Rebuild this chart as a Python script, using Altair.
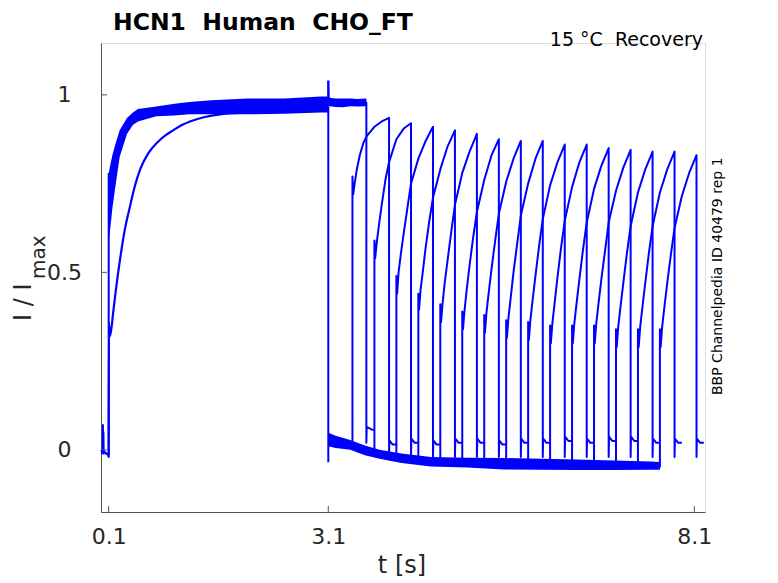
import altair as alt
import pandas as pd

# ---------------- values ----------------
# holding baseline before the activating step (t < 0.1 s)
PRE_T = [0.0, 0.012, 0.018, 0.021, 0.025, 0.028, 0.032, 0.045, 0.07, 0.09, 0.1, 0.1]
PRE_V = [0.0, -0.01, 0.005, 0.07, 0.01, 0.05, -0.01, -0.005, -0.012, -0.01, -0.02, 0.78]

# noise envelope of the 15 fast activating traces (0.1 .. 3.1 s)
FAST_T = [0.101, 0.12, 0.15, 0.19, 0.25, 0.35, 0.43, 0.5, 0.75, 1.0, 1.2, 1.5, 2.0, 2.5, 3.0, 3.1]
FAST_HI = [0.78, 0.80, 0.83, 0.86, 0.90, 0.935, 0.95, 0.96, 0.967, 0.975, 0.98, 0.985, 0.99, 0.99, 0.995, 0.995]
FAST_LO = [0.59, 0.62, 0.68, 0.74, 0.825, 0.89, 0.915, 0.925, 0.94, 0.942, 0.945, 0.945, 0.945, 0.947, 0.95, 0.95]

# the one slowly activating trace
SLOW_T = [0.1, 0.102, 0.118, 0.163, 0.186, 0.254, 0.32, 0.39, 0.46, 0.53, 0.64, 0.76, 0.87, 0.98, 1.1, 1.21, 1.4, 1.62, 2.03, 2.5, 3.0, 3.1]
SLOW_V = [-0.02, 0.36, 0.32, 0.39, 0.43, 0.535, 0.62, 0.685, 0.745, 0.79, 0.835, 0.865, 0.885, 0.90, 0.915, 0.925, 0.937, 0.945, 0.95, 0.955, 0.96, 0.96]

# common step back at 3.1 s
DROP_T = [3.1, 3.1]
DROP_V = [1.04, -0.035]

# deactivating tail envelope (3.1 s .. last test onset)
TAIL_T = [3.1, 3.2, 3.4, 3.6, 3.8, 4.1, 4.5, 5.0, 5.5, 6.0, 6.5, 7.0, 7.5, 7.63]
TAIL_HI = [0.048, 0.04, 0.028, 0.012, 0.0, -0.01, -0.02, -0.022, -0.023, -0.025, -0.027, -0.03, -0.033, -0.034]
TAIL_LO = [0.01, 0.005, 0.0, -0.015, -0.025, -0.037, -0.047, -0.05, -0.055, -0.056, -0.057, -0.057, -0.056, -0.056]

# trace with the shortest recovery interval (stays open)
T0_T = [3.1, 3.105, 3.12, 3.2, 3.3, 3.4, 3.5, 3.62]
T0_V = [1.04, 0.99, 0.98, 0.978, 0.976, 0.98, 0.977, 0.978]
T0_HI = [0.995, 0.995, 0.992, 0.99, 0.99, 0.99, 0.988, 0.99]
T0_LO = [0.97, 0.97, 0.968, 0.966, 0.965, 0.968, 0.967, 0.968]
T0_POST_T = [3.62, 3.625, 3.67, 3.72]
T0_POST_V = [0.02, 0.065, 0.06, 0.055]

# test pulses: onset time, tail level at onset, current at offsets after onset
ONSETS = [3.43, 3.73, 4.03, 4.33, 4.63, 4.93, 5.23, 5.53, 5.83, 6.13, 6.43, 6.73, 7.03, 7.33, 7.63]
BASES = [0.005, -0.01, -0.03, -0.035, -0.04, -0.045, -0.045, -0.05, -0.05, -0.05, -0.05, -0.05, -0.05, -0.05, -0.05]
OFFS = [0.0, 0.01, 0.03, 0.06, 0.1, 0.15, 0.2, 0.3, 0.4, 0.5]
CURVES = [
    [0.77, 0.72, 0.75, 0.79, 0.83, 0.865, 0.885, 0.91, 0.925, 0.935],
    [0.59, 0.54, 0.58, 0.63, 0.69, 0.76, 0.81, 0.875, 0.905, 0.92],
    [0.49, 0.44, 0.50, 0.55, 0.61, 0.68, 0.75, 0.82, 0.87, 0.91],
    [0.44, 0.395, 0.45, 0.50, 0.57, 0.645, 0.71, 0.79, 0.855, 0.90],
    [0.41, 0.36, 0.41, 0.47, 0.535, 0.615, 0.69, 0.78, 0.84, 0.89],
    [0.39, 0.34, 0.39, 0.45, 0.52, 0.60, 0.67, 0.76, 0.83, 0.875],
    [0.38, 0.33, 0.385, 0.44, 0.51, 0.59, 0.665, 0.755, 0.82, 0.87],
    [0.365, 0.315, 0.37, 0.425, 0.50, 0.58, 0.66, 0.75, 0.82, 0.87],
    [0.36, 0.31, 0.365, 0.42, 0.49, 0.575, 0.65, 0.745, 0.81, 0.86],
    [0.35, 0.30, 0.355, 0.41, 0.485, 0.57, 0.645, 0.74, 0.81, 0.86],
    [0.35, 0.30, 0.355, 0.41, 0.48, 0.565, 0.64, 0.735, 0.80, 0.85],
    [0.35, 0.30, 0.355, 0.41, 0.48, 0.56, 0.64, 0.73, 0.795, 0.845],
    [0.34, 0.29, 0.345, 0.40, 0.47, 0.555, 0.63, 0.725, 0.79, 0.84],
    [0.34, 0.29, 0.345, 0.40, 0.47, 0.555, 0.63, 0.725, 0.79, 0.84],
    [0.34, 0.29, 0.345, 0.40, 0.47, 0.55, 0.625, 0.715, 0.78, 0.83],
]
POST_OFFS = [0.5, 0.505, 0.55, 0.6]
POST_DROP = -0.02
BLIPS = [0.015, 0.02, 0.015, 0.02, 0.02, 0.015, 0.02, 0.02, 0.025, 0.02, 0.025, 0.025, 0.02, 0.02, 0.02]

X_TICKS = [0.1, 3.1, 8.1]
Y_TICKS = [0, 0.5, 1]

BLUE = "#0000ff"
FONT = "DejaVu Sans"

# ---------------- tables ----------------
rows = []


def add(trace, ts, vs):
    for i, (t, v) in enumerate(zip(ts, vs)):
        rows.append({"trace": trace, "i": i, "t": t, "v": v})


add("pre", PRE_T, PRE_V)
add("drop", DROP_T, DROP_V)
add("t0", T0_T + T0_POST_T, T0_V + T0_POST_V)
for k, (on, base, cur, blip) in enumerate(zip(ONSETS, BASES, CURVES, BLIPS)):
    ts = [on] + [on + o for o in OFFS] + [on + o for o in POST_OFFS]
    vs = [base] + cur + [POST_DROP, blip + 0.012, blip, blip]
    add(f"k{k + 1}", ts, vs)
lines = pd.DataFrame(rows)

slow = pd.DataFrame({"t": SLOW_T, "v": SLOW_V})
fast = pd.DataFrame({"t": FAST_T, "hi": FAST_HI, "lo": FAST_LO})
tail = pd.DataFrame({"t": TAIL_T, "hi": TAIL_HI, "lo": TAIL_LO})
t0band = pd.DataFrame({"t": T0_T, "hi": T0_HI, "lo": T0_LO})
xt = pd.DataFrame({"t": X_TICKS})
yt = pd.DataFrame({"v": Y_TICKS})

# ---------------- scales / axes ----------------
XS = alt.Scale(domain=[-0.005, 8.246], nice=False, zero=False)
YS = alt.Scale(domain=[-0.175, 1.146], nice=False, zero=False)
XA = alt.Axis(values=X_TICKS, format=".1f", title=None, grid=False, ticks=False, tickSize=0,
              domainColor="#555555", labelFont=FONT, labelFontSize=22, labelColor="#262626",
              labelBaseline="alphabetic", labelPadding=31, labelFlush=False)
YA = alt.Axis(values=Y_TICKS, format="~g", title=None, grid=False, ticks=False, tickSize=0,
              domainColor="#555555", labelFont=FONT, labelFontSize=22, labelColor="#262626",
              labelAlign="center", labelBaseline="middle", labelPadding=37, labelFlush=False)


def X(f="t"):
    return alt.X(f"{f}:Q", scale=XS, axis=XA)


def Y(f="v"):
    return alt.Y(f"{f}:Q", scale=YS, axis=YA)


band_fast = alt.Chart(fast).mark_area(color=BLUE, opacity=1).encode(x=X(), y=Y("hi"), y2="lo:Q")
band_tail = alt.Chart(tail).mark_area(color=BLUE, opacity=1).encode(x=X(), y=Y("hi"), y2="lo:Q")
band_t0 = alt.Chart(t0band).mark_area(color=BLUE, opacity=1).encode(x=X(), y=Y("hi"), y2="lo:Q")

slow_line = alt.Chart(slow).mark_line(color=BLUE, strokeWidth=2.2, interpolate="monotone").encode(
    x=X(), y=Y())

trace_lines = alt.Chart(lines).mark_line(color=BLUE, strokeWidth=2, strokeJoin="round").encode(
    x=X(), y=Y(), detail="trace:N", order="i:Q")

xticks = alt.Chart(xt).mark_rule(color="#555555", strokeWidth=1).encode(
    x=X(), y=alt.value(469), y2=alt.value(463))
yticks = alt.Chart(yt).mark_rule(color="#555555", strokeWidth=1).encode(
    y=Y(), x=alt.value(0), x2=alt.value(6))

one = pd.DataFrame({"a": [0]})


def label(text, x, y, size, bold=False, angle=0, align="left", color="#000000"):
    return alt.Chart(one).mark_text(
        text=text, font=FONT, fontSize=size, fontWeight="bold" if bold else "normal",
        angle=angle, align=align, baseline="alphabetic", color=color
    ).encode(x=alt.value(x), y=alt.value(y))


texts = [
    label("HCN1 \u00a0Human \u00a0CHO_FT", 12, -13, 23.5, bold=True),
    label("15 °C \u00a0Recovery", 602, 3, 19, align="right"),
    label("BBP Channelpedia ID 40479 rep 1", 621, 352, 14, angle=270),
    label("t [s]", 301, 530, 24, align="center", color="#262626"),
    label("I / I", -70, 278, 24, angle=270, color="#262626"),
    label("max", -56, 236, 20, angle=270, color="#262626"),
]

chart = alt.layer(band_fast, band_tail, band_t0, slow_line, trace_lines, xticks, yticks, *texts).properties(
    width=604, height=469,
    autosize=alt.AutoSizeParams(type="none"),
    padding={"left": 93, "top": 35, "right": 50, "bottom": 70},
).configure_view(stroke=None).configure(background="white")

chart.save("out.html", embed_options={"renderer": "svg", "actions": False})
